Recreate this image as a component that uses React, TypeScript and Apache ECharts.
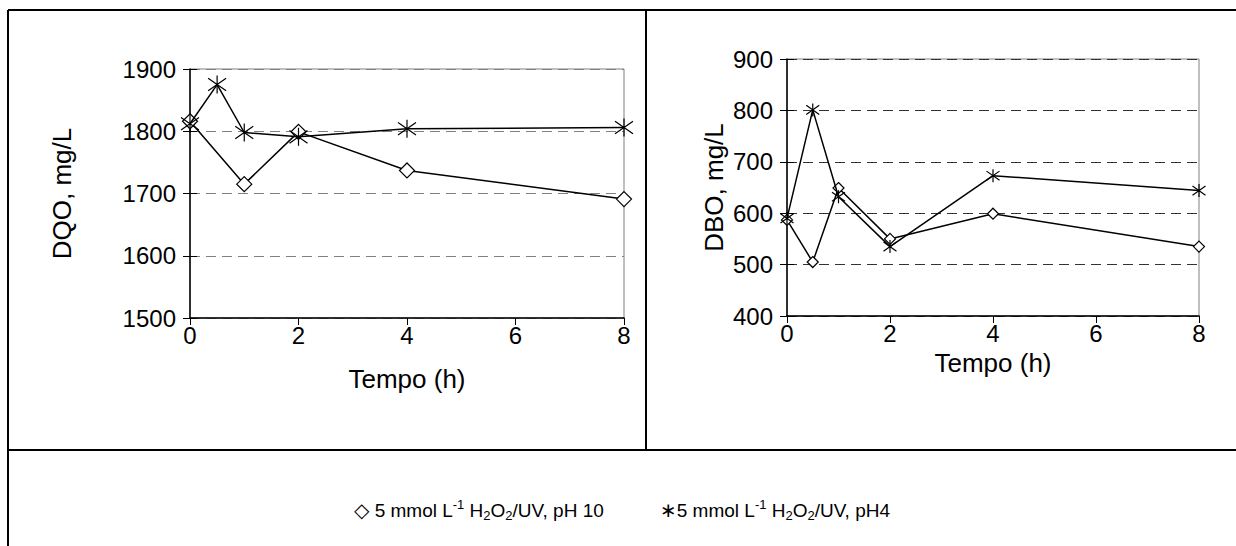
import React, { useEffect, useRef } from "react";
import * as echarts from "echarts";

// ---- data ----
const timeDqoPH10 = [0, 1, 2, 4, 8];
const dqoPH10 = [1816, 1715, 1799, 1737, 1691];
const timeDqoPH4 = [0, 0.5, 1, 2, 4, 8];
const dqoPH4 = [1812, 1875, 1798, 1791, 1804, 1806];

const timeDbo = [0, 0.5, 1, 2, 4, 8];
const dboPH10 = [587, 505, 649, 550, 599, 535];
const dboPH4 = [590, 801, 632, 535, 673, 644];

const xName = "Tempo (h)";
const yNameLeft = "DQO, mg/L";
const yNameRight = "DBO, mg/L";
const legendPH10 = "5 mmol L{sup|-1} H{sub|2}O{sub|2}/UV, pH 10";
const legendPH4 = "5 mmol L{sup|-1} H{sub|2}O{sub|2}/UV, pH4";

const FONT = 'Arial, "Liberation Sans", sans-serif';
const STAR = "path://M10 0L10 20M1 3L19 17M1 17L19 3";

const zip = (xs: number[], ys: number[]) => xs.map((x, i) => [x, ys[i]]);

export default function App() {
  const ref = useRef<HTMLDivElement>(null);
  useEffect(() => {
    document.body.style.margin = "0";
    const chart = echarts.init(ref.current!, null, { renderer: "svg" });
    const gridLeft = { left: 190, top: 69, width: 434, height: 249 };
    const gridRight = { left: 787, top: 59, width: 412, height: 257 };

    const mkX = (gi: number) => ({
      type: "value",
      gridIndex: gi,
      min: 0,
      max: 8,
      interval: 2,
      name: xName,
      nameLocation: "middle",
      nameGap: gi === 0 ? 48 : 34,
      nameTextStyle: { fontFamily: FONT, fontSize: 26, color: "#000" },
      axisLine: { lineStyle: { color: "#000", width: 1.5 } },
      axisTick: { show: true, length: 7, lineStyle: { color: "#000", width: 1 } },
      axisLabel: { fontFamily: FONT, fontSize: 24, color: "#000", margin: 5, formatter: (v: number) => String(v) },
      splitLine: { show: false },
    });
    const mkY = (gi: number, min: number, max: number, name: string, gap: number, gridColor: string) => ({
      type: "value",
      gridIndex: gi,
      min,
      max,
      interval: 100,
      name,
      nameLocation: "middle",
      nameGap: gap,
      nameRotate: 90,
      nameTextStyle: { fontFamily: FONT, fontSize: 26, color: "#000" },
      axisLine: { show: true, lineStyle: { color: "#000", width: 1.5 } },
      axisTick: { show: true, length: 7, lineStyle: { color: "#000", width: 1 } },
      axisLabel: { fontFamily: FONT, fontSize: 24, color: "#000", margin: 14, formatter: (v: number) => String(v) },
      splitLine: { show: true, lineStyle: { color: gridColor, width: 1, type: [10, 6] } },
    });
    const mkYInner = (gi: number, min: number, max: number) => ({
      type: "value",
      gridIndex: gi,
      min,
      max,
      interval: 100,
      position: "left",
      axisLine: { show: false },
      axisTick: { show: true, inside: true, length: 7, lineStyle: { color: "#000", width: 1 } },
      axisLabel: { show: false },
      splitLine: { show: false },
    });

    const diamond = (data: number[][], xi: number, yi: number, size: number) => ({
      type: "line",
      xAxisIndex: xi,
      yAxisIndex: yi,
      data,
      symbol: "diamond",
      symbolSize: size,
      lineStyle: { color: "#000", width: 1.5 },
      itemStyle: { color: "#fff", borderColor: "#000", borderWidth: 1.2 },
      z: 3,
    });
    const star = (data: number[][], xi: number, yi: number, size: number) => ({
      type: "line",
      xAxisIndex: xi,
      yAxisIndex: yi,
      data,
      symbol: STAR,
      symbolSize: size,
      lineStyle: { color: "#000", width: 1.5 },
      itemStyle: { color: "#000", borderColor: "#000", borderWidth: 1.2 },
      z: 4,
    });

    const richStyles = {
      sup: { fontFamily: FONT, fontSize: 13, verticalAlign: "top", lineHeight: 14, fill: "#000" },
      sub: { fontFamily: FONT, fontSize: 13, verticalAlign: "bottom", lineHeight: 14, fill: "#000" },
      sym: { fontFamily: '"DejaVu Sans", sans-serif', fontSize: 20, fill: "#000" },
    };

    chart.setOption({
      animation: false,
      grid: [
        { ...gridLeft, show: true, borderColor: "#808080", borderWidth: 1, backgroundColor: "transparent" },
        { ...gridRight, show: true, borderColor: "#808080", borderWidth: 1, backgroundColor: "transparent" },
      ],
      xAxis: [mkX(0), mkX(1)],
      yAxis: [
        mkY(0, 1500, 1900, yNameLeft, 115, "#808080"),
        mkY(1, 400, 900, yNameRight, 60, "#333"),
        mkYInner(0, 1500, 1900),
        mkYInner(1, 400, 900),
      ],
      series: [
        diamond(zip(timeDqoPH10, dqoPH10), 0, 0, 15),
        star(zip(timeDqoPH4, dqoPH4), 0, 0, 18),
        diamond(zip(timeDbo, dboPH10), 1, 1, 11),
        star(zip(timeDbo, dboPH4), 1, 1, 13),
      ],
      graphic: [
        { type: "line", shape: { x1: 8, y1: 10, x2: 1236, y2: 10 }, style: { stroke: "#000", lineWidth: 2 } },
        { type: "line", shape: { x1: 8, y1: 10, x2: 8, y2: 546 }, style: { stroke: "#000", lineWidth: 2 } },
        { type: "line", shape: { x1: 8, y1: 450, x2: 1236, y2: 450 }, style: { stroke: "#000", lineWidth: 2 } },
        { type: "line", shape: { x1: 646, y1: 10, x2: 646, y2: 450 }, style: { stroke: "#000", lineWidth: 2 } },
        {
          type: "text",
          x: 354,
          y: 510,
          style: {
            text: "{sym|◇} " + legendPH10,
            fontFamily: FONT,
            fontSize: 19,
            fill: "#000",
            verticalAlign: "middle",
            lineHeight: 24,
            rich: richStyles,
          },
        },
        {
          type: "text",
          x: 660,
          y: 510,
          style: {
            text: "{sym|∗}" + legendPH4,
            fontFamily: FONT,
            fontSize: 19,
            fill: "#000",
            verticalAlign: "middle",
            lineHeight: 24,
            rich: richStyles,
          },
        },
      ],
    });
    return () => chart.dispose();
  }, []);
  return <div ref={ref} style={{ width: 1236, height: 546 }} />;
}
